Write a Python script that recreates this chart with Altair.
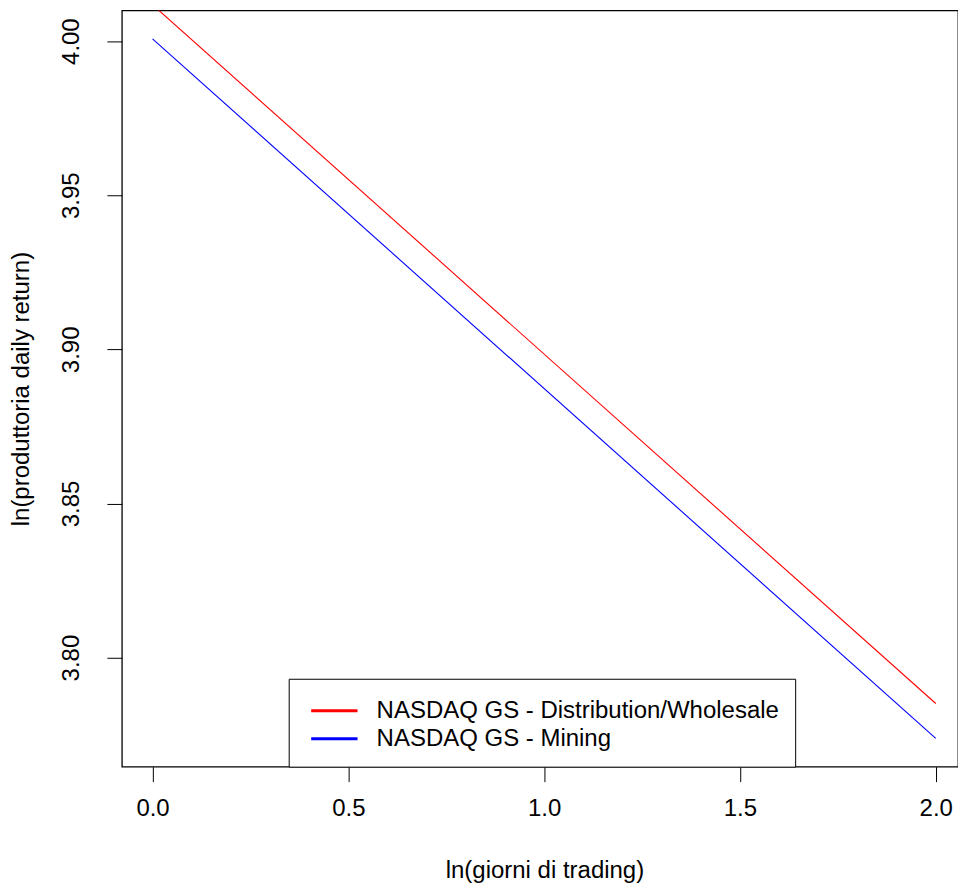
import altair as alt
import pandas as pd

# ---- data ----
x_vals = [0.0, 2.0]
series_names = ["NASDAQ GS - Distribution/Wholesale", "NASDAQ GS - Mining"]
red_vals = [4.0118, 3.7851]
blue_vals = [4.0007, 3.7738]
series_colors = ["#FF0000", "#0000FF"]
x_ticks = [0.0, 0.5, 1.0, 1.5, 2.0]
y_ticks = [3.80, 3.85, 3.90, 3.95, 4.00]

rows = []
for name, vals in zip(series_names, [red_vals, blue_vals]):
    for xv, yv in zip(x_vals, vals):
        rows.append({"x": xv, "y": yv, "serie": name})
df = pd.DataFrame(rows)

FONT = "Liberation Sans"
FS = 24

chart = (
    alt.Chart(df)
    .mark_line(strokeWidth=1.1, clip=True)
    .encode(
        x=alt.X(
            "x:Q",
            scale=alt.Scale(domain=[-0.0783, 2.0568], nice=False, zero=False),
            axis=alt.Axis(
                values=x_ticks,
                format=".1f",
                title="ln(giorni di trading)",
                grid=False,
                domain=False,
                tickSize=15,
                tickColor="black",
                tickWidth=1,
                labelPadding=15,
                labelFontSize=FS,
                labelFont=FONT,
                labelColor="black",
                titleFontSize=FS,
                titleFont=FONT,
                titleFontWeight="normal",
                titleColor="black",
                titleY=104,
                titleX=423,
                titleBaseline="middle",
                titleAlign="center",
            ),
        ),
        y=alt.Y(
            "y:Q",
            scale=alt.Scale(domain=[3.7646, 4.00995], nice=False, zero=False),
            axis=alt.Axis(
                values=y_ticks,
                format=".2f",
                title="ln(produttoria daily return)",
                grid=False,
                domain=False,
                tickSize=15,
                tickColor="black",
                tickWidth=1,
                labelAngle=270,
                labelAlign="center",
                labelBaseline="bottom",
                labelPadding=23,
                labelFontSize=FS,
                labelFont=FONT,
                labelColor="black",
                titleFontSize=FS,
                titleFont=FONT,
                titleFontWeight="normal",
                titleColor="black",
                titleAngle=270,
                titleX=-100,
                titleY=378.5,
                titleBaseline="middle",
                titleAlign="center",
            ),
        ),
        color=alt.Color(
            "serie:N",
            scale=alt.Scale(domain=series_names, range=series_colors),
            legend=alt.Legend(
                title=None,
                orient="none",
                legendX=167,
                legendY=669,
                symbolType="M-1,0H2.2",
                symbolSize=841,
                symbolStrokeWidth=3,
                symbolOffset=5,
                labelFontSize=FS,
                labelFont=FONT,
                labelColor="black",
                labelOffset=35,
                labelLimit=1000,
                rowPadding=0,
                padding=16,
                strokeColor="black",
                fillColor="white",
                cornerRadius=0,
            ),
        ),
    )
    .properties(
        width=837,
        height=757,
        padding={"left": 122, "top": 10, "right": 0, "bottom": 123},
        autosize=alt.AutoSizeParams(type="none"),
    )
    .configure(background="white")
    .configure_view(stroke="black", strokeWidth=1.3)
)

chart.save("out.html", embed_options={"renderer": "svg", "actions": False})
